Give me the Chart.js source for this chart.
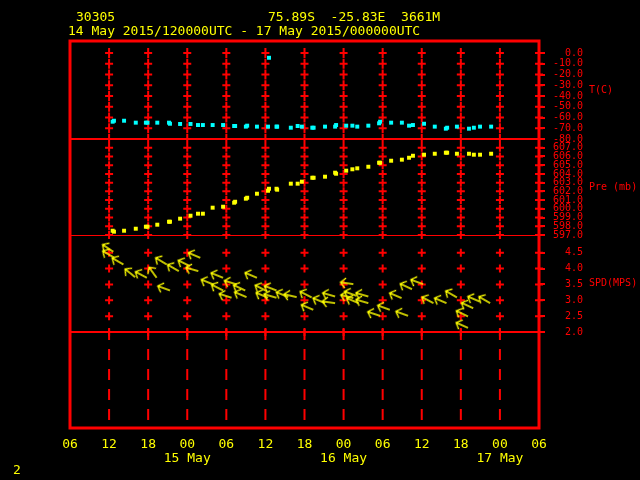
<!DOCTYPE html>
<html>
<head>
<meta charset="utf-8">
<script src="https://cdn.jsdelivr.net/npm/chart.js@4.4.1/dist/chart.umd.min.js"></script>
<style>
  html, body { margin: 0; padding: 0; background: #000; }
</style>
</head>
<body>
<canvas id="gram" width="640" height="480"></canvas>
<script>
// hours after 14 May 06Z
const obsHours = [6.55, 6.75, 8.3, 10.1, 11.65, 11.9, 13.4, 15.2, 15.35, 16.9, 18.5, 19.65, 20.4, 21.9, 23.5,
  25.2, 25.35, 27.0, 27.2, 28.7, 30.4, 30.55, 31.7, 31.8, 33.9, 34.95, 35.6, 37.2, 37.4, 39.15, 40.7, 40.85,
  42.4, 43.35, 44.1, 45.8, 47.45, 47.6, 49.3, 50.95, 52.05, 52.65, 54.35, 56.0, 57.7, 57.9, 59.4, 61.25,
  62.0, 62.95, 64.65];
const tempC = [-63.9, -63.0, -63.0, -64.8, -64.8, -64.8, -64.8, -64.8, -65.8, -66.0, -66.0, -67.0, -67.0, -67.0, -67.0,
  -67.9, -67.9, -68.5, -67.6, -68.5, -68.5, -4.4, -68.5, -68.5, -69.5, -67.9, -68.5, -69.5, -69.5, -68.5, -68.5, -67.0,
  -67.6, -67.6, -68.5, -67.6, -65.4, -63.9, -64.8, -64.8, -67.6, -67.0, -65.8, -68.5, -70.4, -69.5, -68.5, -70.4,
  -69.5, -68.5, -68.5];
const presMb = [597.49, 597.38, 597.49, 597.72, 597.95, 597.95, 598.18, 598.52, 598.52, 598.87, 599.21, 599.44, 599.44, 600.13, 600.24,
  600.70, 600.81, 601.16, 601.27, 601.73, 602.07, 602.30, 602.30, 602.19, 602.88, 602.88, 603.11, 603.56, 603.56, 603.68, 604.14, 604.02,
  604.37, 604.53, 604.64, 604.82, 605.28, 605.28, 605.51, 605.63, 605.85, 606.08, 606.20, 606.31, 606.43, 606.43, 606.31, 606.31,
  606.20, 606.20, 606.31];

const windHours = [6.65, 6.75, 8.2, 10.0, 11.8, 13.3, 14.85, 15.35, 16.7, 18.4, 20.0, 19.7, 23.5, 22.0, 23.5, 25.6, 24.8,
  26.9, 27.1, 28.7, 30.2, 30.4, 31.7, 31.7, 33.5, 34.8, 37.1, 37.35, 39.15, 40.7, 40.7, 43.5, 43.5, 44.0, 44.3, 45.8,
  45.8, 47.6, 49.1, 50.9, 51.9, 52.5, 54.2, 55.8, 57.8, 59.4, 61.1, 61.1, 61.9, 62.9, 64.5];
const windSpd = [4.53, 4.35, 4.13, 3.73, 3.71, 3.71, 4.13, 3.31, 3.92, 4.08, 4.34, 3.92, 3.71, 3.50, 3.31, 3.50, 3.08,
  3.31, 3.10, 3.71, 3.29, 3.08, 3.31, 3.08, 3.10, 3.10, 3.09, 2.70, 2.91, 3.12, 2.91, 3.51, 3.07, 3.14, 2.91, 3.12,
  2.91, 2.51, 2.70, 3.07, 2.51, 3.35, 3.51, 2.91, 2.91, 3.09, 2.49, 2.13, 2.75, 2.96, 2.91];
const windDir = [124, 120, 120, 129, 118, 144, 121, 110, 120, 116, 113, 106, 112, 112, 117, 107, 108,
  115, 113, 113, 117, 113, 111, 106, 113, 103, 117, 113, 113, 106, 98, 98, 104, 110, 113, 106,
  106, 108, 110, 113, 110, 115, 110, 118, 113, 120, 116, 114, 115, 113, 120];

const xTickHours = [0, 6, 12, 18, 24, 30, 36, 42, 48, 54, 60, 66, 72];
const xTickLabels = ['06', '12', '18', '00', '06', '12', '18', '00', '06', '12', '18', '00', '06'];
const dateLabels = ['', '', '', '15 May', '', '', '', '16 May', '', '', '', '17 May', ''];
const tempTicks = [0, -10, -20, -30, -40, -50, -60, -70, -80];
const presTicks = [607, 606, 605, 604, 603, 602, 601, 600, 599, 598, 597];
const spdTicks = [4.5, 4.0, 3.5, 3.0, 2.5, 2.0];

const RED = '#ff0000';
const YEL = '#ffff00';
const MONO = "'DejaVu Sans Mono', monospace";

function arrowSprite() {
  const c = document.createElement('canvas');
  c.width = 30; c.height = 30;
  const g = c.getContext('2d');
  g.strokeStyle = YEL;
  g.lineWidth = 1.3;
  g.beginPath();
  g.moveTo(15, 15); g.lineTo(2, 15);
  g.moveTo(7, 10); g.lineTo(2, 15); g.lineTo(7, 20);
  g.stroke();
  return c;
}

function rightAxis(min, max, weight, ticks) {
  return {
    type: 'linear', position: 'right', stack: 'panels', stackWeight: weight,
    min: min, max: max,
    afterBuildTicks: s => { s.ticks = ticks.map(v => ({ value: v })); },
    afterFit: s => { s.width = 101; },
    grid: { drawOnChartArea: false, drawTicks: true, tickLength: 6, color: RED, lineWidth: 2 },
    border: { display: false },
    ticks: { color: RED, padding: 8, autoSkip: false, font: { family: MONO, size: 10 },
      callback: v => Number(v).toFixed(1).padStart(5) }
  };
}

const decor = {
  id: 'decor',
  beforeDatasetsDraw(chart) {
    const { ctx, chartArea: a, scales } = chart;
    const x = scales.x;
    ctx.save();
    ctx.strokeStyle = RED;
    ctx.lineWidth = 2;
    // tick crosses in the three data panels
    const panels = [[scales.yT, tempTicks, 5], [scales.yP, presTicks, 4], [scales.yS, spdTicks, 4]];
    ctx.beginPath();
    panels.forEach(([s, ticks, hh]) => {
      xTickHours.slice(1).forEach(h => {
        const px = x.getPixelForValue(h);
        ticks.forEach(v => {
          const py = s.getPixelForValue(v);
          ctx.moveTo(px - 4, py); ctx.lineTo(px + 4, py);
          ctx.moveTo(px, py - hh); ctx.lineTo(px, py + hh);
        });
      });
    });
    ctx.stroke();
    // dashed lines in the empty bottom panel
    ctx.setLineDash([11, 9]);
    ctx.beginPath();
    const y0 = scales.yS.getPixelForValue(2.0) - 3;
    xTickHours.slice(1, -1).forEach(h => {
      const px = x.getPixelForValue(h);
      ctx.moveTo(px, y0); ctx.lineTo(px, a.bottom);
    });
    ctx.stroke();
    ctx.setLineDash([]);
    // panel dividers
    ctx.beginPath();
    ctx.moveTo(a.left, scales.yT.bottom); ctx.lineTo(a.right, scales.yT.bottom);
    ctx.moveTo(a.left, scales.yS.bottom); ctx.lineTo(a.right + 6, scales.yS.bottom);
    ctx.stroke();
    ctx.lineWidth = 1;
    ctx.beginPath();
    ctx.moveTo(a.left, scales.yP.bottom + 0.5); ctx.lineTo(a.right, scales.yP.bottom + 0.5);
    ctx.stroke();
    // frame
    ctx.lineWidth = 3;
    ctx.strokeRect(a.left, a.top, a.right - a.left, a.bottom - a.top);
    ctx.restore();
  },
  afterDraw(chart) {
    const { ctx, scales } = chart;
    ctx.save();
    ctx.textBaseline = 'middle';
    ctx.textAlign = 'left';
    ctx.fillStyle = YEL;
    ctx.font = '13px ' + MONO;
    ctx.fillText('30305', 76, 18);
    ctx.fillText('75.89S  -25.83E  3661M', 268, 18);
    ctx.fillText('14 May 2015/120000UTC - 17 May 2015/000000UTC', 68, 32);
    ctx.fillText('2', 13, 471);
    ctx.fillStyle = RED;
    ctx.font = '10px ' + MONO;
    [[scales.yT, 'T(C)'], [scales.yP, 'Pre (mb)'], [scales.yS, 'SPD(MPS)']].forEach(([s, t]) => {
      ctx.fillText(t, 589, (s.top + s.bottom) / 2);
    });
    ctx.restore();
  }
};

new Chart(document.getElementById('gram'), {
  type: 'scatter',
  data: {
    datasets: [{
      label: 'T',
      yAxisID: 'yT',
      data: obsHours.map((h, i) => ({ x: h, y: tempC[i] })),
      pointStyle: 'rect', pointRadius: 2.8, borderWidth: 0,
      backgroundColor: '#00ffff'
    }, {
      label: 'Pre',
      yAxisID: 'yP',
      data: obsHours.map((h, i) => ({ x: h, y: presMb[i] })),
      pointStyle: 'rect', pointRadius: 2.8, borderWidth: 0,
      backgroundColor: YEL
    }, {
      label: 'SPD',
      yAxisID: 'yS',
      data: windHours.map((h, i) => ({ x: h, y: windSpd[i] })),
      pointStyle: arrowSprite(),
      pointRotation: windDir.map(d => d - 90)
    }]
  },
  options: {
    responsive: false,
    devicePixelRatio: 1,
    animation: false,
    events: [],
    layout: { padding: { left: 70, top: 41, right: 0, bottom: 0 } },
    plugins: { legend: { display: false }, tooltip: { enabled: false } },
    scales: {
      x: {
        type: 'linear', position: 'bottom', min: 0, max: 72,
        afterBuildTicks: s => { s.ticks = xTickHours.map(v => ({ value: v })); },
        afterFit: s => { s.height = 52; },
        grid: { display: false },
        border: { display: false },
        ticks: {
          color: YEL, padding: 2, maxRotation: 0, autoSkip: false,
          font: { family: MONO, size: 13, lineHeight: '14px' },
          callback: (v, i) => dateLabels[i] ? [xTickLabels[i], dateLabels[i]] : xTickLabels[i]
        }
      },
      yT: rightAxis(-80, 11.2, 98, tempTicks),
      yP: rightAxis(597, 608, 96, presTicks),
      yS: rightAxis(2.0, 5.06, 97, spdTicks),
      yB: {
        type: 'linear', position: 'right', stack: 'panels', stackWeight: 96,
        min: 0, max: 1,
        afterFit: s => { s.width = 101; },
        grid: { display: false }, border: { display: false },
        ticks: { display: false }
      }
    }
  },
  plugins: [decor]
});
</script>
</body>
</html>
